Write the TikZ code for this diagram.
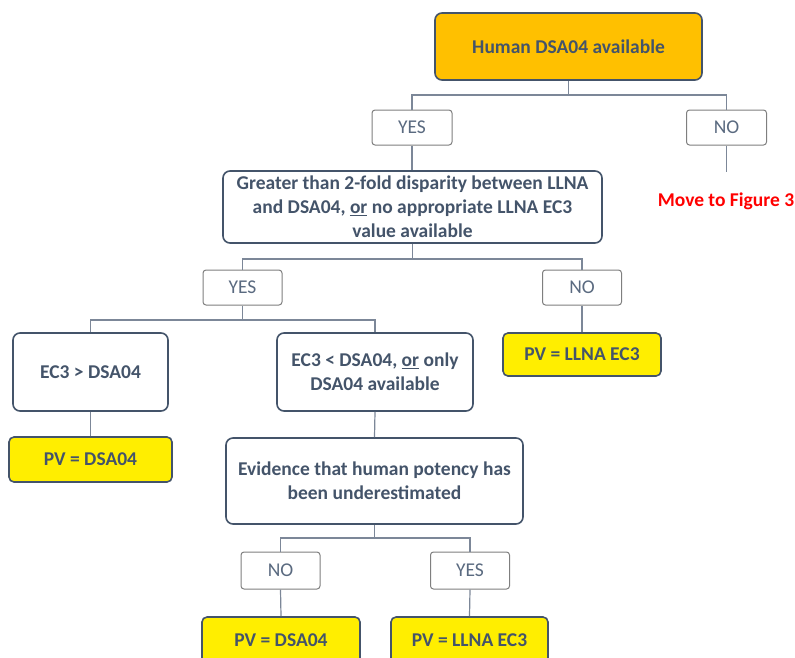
\documentclass[tikz,border=0pt]{standalone}
\usepackage{fontspec}
\setmainfont{Carlito}
\definecolor{txt}{HTML}{44546A}
\definecolor{labtxt}{HTML}{5A6A80}
\definecolor{labdraw}{HTML}{7F7F7F}
\definecolor{linec}{HTML}{7C8798}
\definecolor{gold}{HTML}{FFC000}
\definecolor{yel}{HTML}{FFEE00}
\definecolor{redt}{HTML}{FF0000}
\tikzset{
  box/.style={draw=txt, line width=1.6pt, rounded corners=7pt, fill=white,
    font=\bfseries\fontsize{19.5}{24}\selectfont, text=txt, align=center, inner sep=0pt},
  pvbox/.style={box, fill=yel, rounded corners=5pt},
  lab/.style={draw=labdraw, line width=1pt, rounded corners=3pt, fill=white,
    font=\fontsize{19.5}{22}\selectfont, text=labtxt, minimum width=80pt,
    minimum height=35pt, inner sep=0pt},
  conn/.style={draw=linec, line width=1.2pt}
}
\begin{document}
\begin{tikzpicture}[x=1pt,y=-1pt]
\useasboundingbox (0,0) rectangle (795,657);
\clip (0,0) rectangle (795,657);

% nodes
\node[box, fill=gold, minimum width=267pt, minimum height=67pt] (top) at (568.5,46.5) {Human DSA04 available};
\node[lab] (yes1) at (412,127.5) {YES};
\node[lab] (no1) at (726.5,127.5) {NO};
\node[font=\bfseries\fontsize{19.5}{22}\selectfont, text=redt] (move) at (726,201) {Move to Figure 3};
\node[box, minimum width=379pt, minimum height=72pt] (q) at (412.5,207) {Greater than 2-fold disparity between LLNA\\and DSA04, \underline{or} no appropriate LLNA EC3\\value available};
\node[lab, minimum width=79pt] (yes2) at (242.5,287.5) {YES};
\node[lab, minimum width=79pt] (no2) at (582,287.5) {NO};
\node[box, minimum width=155pt, minimum height=78pt] (gt) at (90.5,372) {EC3 > DSA04};
\node[box, minimum width=196pt, minimum height=78pt] (lt) at (375,372) {EC3 < DSA04, \underline{or} only\\DSA04 available};
\node[pvbox, minimum width=158pt, minimum height=43pt] (pv1) at (582,354.5) {PV = LLNA EC3};
\node[pvbox, minimum width=163pt, minimum height=45pt] (pv2) at (90.5,459.5) {PV = DSA04};
\node[box, minimum width=297pt, minimum height=86pt] (ev) at (374.5,481) {Evidence that human potency has\\been underestimated};
\node[lab, minimum width=79pt, minimum height=37pt] (no3) at (280.5,570.5) {NO};
\node[lab, minimum width=79pt, minimum height=37pt] (yes3) at (470,570.5) {YES};
\node[pvbox, minimum width=158pt, minimum height=46pt] (pv3) at (281,640) {PV = DSA04};
\node[pvbox, minimum width=157pt, minimum height=46pt] (pv4) at (469.5,640) {PV = LLNA EC3};

% junctions
\coordinate (j1) at (568.5,95);
\coordinate (j2) at (412.5,259);
\coordinate (j3) at (242.5,320);
\coordinate (j4) at (374.5,538);
\coordinate (noend) at (726.5,172);

% connectors
\draw[conn] (top.south) -- (j1);
\draw[conn] (yes1.north) |- (j1) -| (no1.north);
\draw[conn] (no1.south) -- (noend);
\draw[conn] (yes1.south) -- (yes1.south |- q.north);
\draw[conn] (q.south) -- (j2);
\draw[conn] (yes2.north) |- (j2) -| (no2.north);
\draw[conn] (no2.south) -- (pv1.north);
\draw[conn] (yes2.south) -- (j3);
\draw[conn] (gt.north) |- (j3) -| (lt.north);
\draw[conn] (gt.south) -- (pv2.north);
\draw[conn] (lt.south) -- (ev.north);
\draw[conn] (ev.south) -- (j4);
\draw[conn] (no3.north) |- (j4) -| (yes3.north);
\draw[conn] (no3.south) -- (pv3.north);
\draw[conn] (yes3.south) -- (pv4.north);
\end{tikzpicture}
\end{document}
